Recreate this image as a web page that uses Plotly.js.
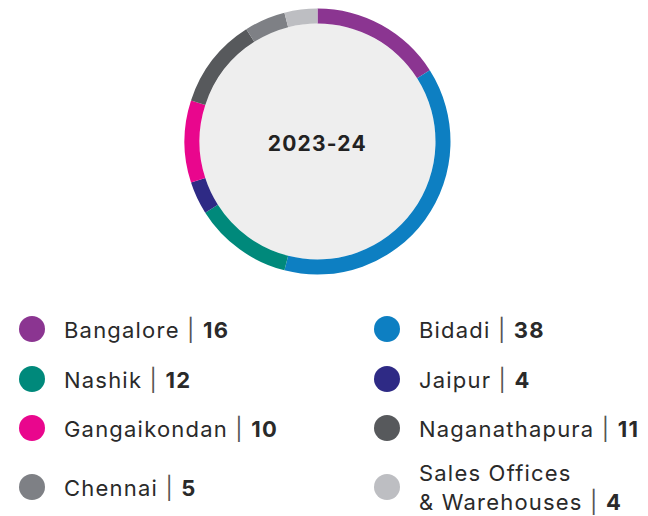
<!DOCTYPE html>
<html>
<head>
<meta charset="utf-8">
<script src="https://cdn.plot.ly/plotly-3.0.1.min.js"></script>
<style>html,body{margin:0;padding:0;background:#fff;}#chart{width:648px;height:516px;}
#chart .annotation-text{letter-spacing:1.2px;}</style>
</head>
<body>
<div id="chart"></div>
<script>
const labels = ["Bangalore", "Bidadi", "Nashik", "Jaipur", "Gangaikondan", "Naganathapura", "Chennai", "Sales Offices<br>& Warehouses"];
const values = [16, 38, 12, 4, 10, 11, 5, 4];
const colors = ["#8b3591", "#0d7fc2", "#00897b", "#2e2a85", "#e9068d", "#57595c", "#7e8085", "#bdbec2"];
const centerTitle = "2023-24";

const W = 648, H = 516;
const cx = 317.5, cy = 141.5, R = 133, r = 118;

const pie = {
  type: "pie",
  values: values,
  labels: labels,
  marker: {colors: colors, line: {width: 0}},
  sort: false,
  direction: "clockwise",
  rotation: 0,
  hole: r / R,
  textinfo: "none",
  hoverinfo: "skip",
  showlegend: false,
  domain: {x: [(cx - R) / W, (cx + R) / W], y: [1 - (cy + R) / H, 1 - (cy - R) / H]}
};

const colMarkerX = [32, 387];
const rowY = [329, 379, 428, 487];
const mx = [], my = [];
const annotations = [];
labels.forEach((lab, i) => {
  const c = i % 2, row = Math.floor(i / 2);
  mx.push(colMarkerX[c]);
  my.push(rowY[row]);
  annotations.push({
    xref: "x", yref: "y", x: colMarkerX[c] + 30, y: rowY[row],
    xanchor: "left", yanchor: "middle", align: "left", showarrow: false,
    text: lab + " <span style='color:#555555'>|</span> <b>" + values[i] + "</b>",
    font: {family: "Inter, sans-serif", size: 22, color: "#2a2a2a"}
  });
});
annotations.push({
  xref: "x", yref: "y", x: cx, y: cy + 2, showarrow: false,
  xanchor: "center", yanchor: "middle",
  text: "<b>" + centerTitle + "</b>",
  font: {family: "Inter, sans-serif", size: 21, color: "#222222"}
});

const legendMarkers = {
  type: "scatter", mode: "markers", x: mx, y: my,
  marker: {color: colors, size: 26, line: {width: 0}},
  hoverinfo: "skip", showlegend: false
};

const layout = {
  width: W, height: H,
  margin: {l: 0, r: 0, t: 0, b: 0},
  paper_bgcolor: "#ffffff", plot_bgcolor: "rgba(0,0,0,0)",
  xaxis: {range: [0, W], visible: false, fixedrange: true},
  yaxis: {range: [H, 0], visible: false, fixedrange: true},
  showlegend: false,
  shapes: [{
    type: "circle", xref: "x", yref: "y",
    x0: cx - r, x1: cx + r, y0: cy - r, y1: cy + r,
    fillcolor: "#eeeeee", line: {width: 0}, layer: "below"
  }],
  annotations: annotations
};

Plotly.newPlot("chart", [pie, legendMarkers], layout, {displayModeBar: false, staticPlot: true});
</script>
</body>
</html>
